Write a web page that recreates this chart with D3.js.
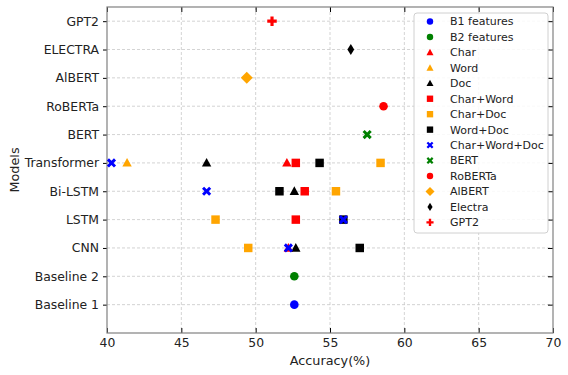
<!DOCTYPE html>
<html>
<head>
<meta charset="utf-8">
<script src="https://cdn.jsdelivr.net/npm/d3@7"></script>
<style>
  body { margin: 0; background: #fff; }
  text { font-family: 'DejaVu Sans', sans-serif; fill: #222; }
</style>
</head>
<body>
<div id="chart"></div>
<script>
// Categories (bottom to top)
const models = ['Baseline 1', 'Baseline 2', 'CNN', 'LSTM', 'Bi-LSTM', 'Transformer',
    'BERT', 'RoBERTa', 'AlBERT', 'ELECTRA', 'GPT2'];

// Accuracy per model for each series (null = not present)
const b1Features   = [52.6, null, null, null, null, null, null, null, null, null, null];
const b2Features   = [null, 52.6, null, null, null, null, null, null, null, null, null];
const charVals     = [null, null, 52.2, null, null, 52.1, null, null, null, null, null];
const wordVals     = [null, null, null, null, null, 41.35, null, null, null, null, null];
const docVals      = [null, null, 52.7, null, 52.6, 46.7, null, null, null, null, null];
const charWord     = [null, null, null, 52.7, 53.3, 52.7, null, null, null, null, null];
const charDoc      = [null, null, 49.5, 47.3, 55.4, 58.4, null, null, null, null, null];
const wordDoc      = [null, null, 57.0, 55.9, 51.6, 54.3, null, null, null, null, null];
const charWordDoc  = [null, null, 52.2, 55.9, 46.7, 40.3, null, null, null, null, null];
const bertVals     = [null, null, null, null, null, null, 57.5, null, null, null, null];
const robertaVals  = [null, null, null, null, null, null, null, 58.6, null, null, null];
const albertVals   = [null, null, null, null, null, null, null, null, 49.4, null, null];
const electraVals  = [null, null, null, null, null, null, null, null, null, 56.4, null];
const gpt2Vals     = [null, null, null, null, null, null, null, null, null, null, 51.1];

const xTicks = [40, 45, 50, 55, 60, 65, 70];

// marker shapes (paths centred at 0,0, scale k)
function xPath(k) {
    const a = 4.6 * k, t = 2.1 * k;
    const pts = [[-a, -a + t], [-a + t, -a], [0, -t], [a - t, -a], [a, -a + t], [t, 0],
        [a, a - t], [a - t, a], [0, t], [-a + t, a], [-a, a - t], [-t, 0]];
    return 'M' + pts.map(p => p.join(',')).join('L') + 'Z';
}
const shapes = {
    circle: k => d3.symbol(d3.symbolCircle, 58 * k * k)(),
    triangle: k => { const h = 8.6 * k, w = 9.4 * k; return `M0,${-h / 2 - 0.6 * k}L${w / 2},${h / 2 - 0.6 * k}L${-w / 2},${h / 2 - 0.6 * k}Z`; },
    square: k => d3.symbol(d3.symbolSquare, 72 * k * k)(),
    x: k => xPath(k),
    diamond: k => { const r = 6 * k; return `M0,${-r}L${r},0L0,${r}L${-r},0Z`; },
    thin: k => { const h = 5.6 * k, w = 3.4 * k; return `M0,${-h}L${w},0L0,${h}L${-w},0Z`; },
    plus: k => d3.symbol(d3.symbolCross, 50 * k * k)()
};

const series = [
    { name: 'B1 features', vals: b1Features, color: '#0000ff', shape: 'circle' },
    { name: 'B2 features', vals: b2Features, color: '#008000', shape: 'circle' },
    { name: 'Char', vals: charVals, color: '#ff0000', shape: 'triangle' },
    { name: 'Word', vals: wordVals, color: '#ffa500', shape: 'triangle' },
    { name: 'Doc', vals: docVals, color: '#000000', shape: 'triangle' },
    { name: 'Char+Word', vals: charWord, color: '#ff0000', shape: 'square' },
    { name: 'Char+Doc', vals: charDoc, color: '#ffa500', shape: 'square' },
    { name: 'Word+Doc', vals: wordDoc, color: '#000000', shape: 'square' },
    { name: 'Char+Word+Doc', vals: charWordDoc, color: '#0000ff', shape: 'x' },
    { name: 'BERT', vals: bertVals, color: '#008000', shape: 'x' },
    { name: 'RoBERTa', vals: robertaVals, color: '#ff0000', shape: 'circle' },
    { name: 'AlBERT', vals: albertVals, color: '#ffa500', shape: 'diamond' },
    { name: 'Electra', vals: electraVals, color: '#000000', shape: 'thin' },
    { name: 'GPT2', vals: gpt2Vals, color: '#ff0000', shape: 'plus' }
];

const width = 568, height = 375;
const margin = { left: 107, right: 15, top: 7, bottom: 42 };
const w = width - margin.left - margin.right;
const h = height - margin.top - margin.bottom;

const svg = d3.select('#chart').append('svg')
    .attr('width', width).attr('height', height);

const g = svg.append('g').attr('transform', `translate(${margin.left},${margin.top})`);

const x = d3.scaleLinear().domain([40, 70]).range([0, w]);
const y = d3.scaleLinear().domain([-1, models.length - 0.5]).range([h, 0]);
const yIdx = d3.range(models.length);

// grid
g.append('g').selectAll('line').data(xTicks.slice(1, -1)).join('line')
    .attr('x1', d => x(d)).attr('x2', d => x(d)).attr('y1', 0).attr('y2', h)
    .attr('stroke', '#c8c8c8').attr('stroke-width', 0.8).attr('stroke-dasharray', '3,2');
g.append('g').selectAll('line').data(yIdx).join('line')
    .attr('x1', 0).attr('x2', w).attr('y1', d => y(d)).attr('y2', d => y(d))
    .attr('stroke', '#c8c8c8').attr('stroke-width', 0.8).attr('stroke-dasharray', '3,2');

// axes
const xAxisB = g.append('g').attr('transform', `translate(0,${h})`)
    .call(d3.axisBottom(x).tickValues(xTicks).tickSizeInner(-5).tickSizeOuter(0).tickPadding(5));
const xAxisT = g.append('g')
    .call(d3.axisTop(x).tickValues(xTicks).tickSizeInner(-5).tickSizeOuter(0).tickFormat(''));
const yAxisL = g.append('g')
    .call(d3.axisLeft(y).tickValues(yIdx).tickFormat(i => models[i]).tickSizeInner(4).tickSizeOuter(0).tickPadding(4));
const yAxisR = g.append('g').attr('transform', `translate(${w},0)`)
    .call(d3.axisRight(y).tickValues(yIdx).tickSizeInner(-5).tickSizeOuter(0).tickFormat(''));

[xAxisB, xAxisT, yAxisL, yAxisR].forEach(a => {
    a.select('.domain').remove();
    a.selectAll('line').attr('stroke', '#000').attr('stroke-width', 1);
    a.selectAll('text').attr('font-size', '12.4px').attr('fill', '#222')
        .style('font-family', "'DejaVu Sans', sans-serif");
});

// frame
g.append('rect').attr('x', 0).attr('y', 0).attr('width', w).attr('height', h)
    .attr('fill', 'none').attr('stroke', '#808080').attr('stroke-width', 1.2);

// labels
svg.append('text').attr('x', margin.left + w / 2).attr('y', 365)
    .attr('text-anchor', 'middle').attr('font-size', '12.8px').text('Accuracy(%)');
svg.append('text').attr('transform', `translate(19,${margin.top + h / 2}) rotate(-90)`)
    .attr('text-anchor', 'middle').attr('font-size', '12.8px').text('Models');

// points
series.forEach(s => {
    g.append('g').selectAll('path')
        .data(s.vals.map((v, i) => ({ v, i })).filter(d => d.v !== null))
        .join('path')
        .attr('d', shapes[s.shape](1))
        .attr('transform', d => `translate(${x(d.v)},${y(d.i)})`)
        .attr('fill', s.color);
});

// legend
const lx = 414, ly = 13, lw = 134, lh = 220;
const legend = svg.append('g');
legend.append('rect').attr('x', lx).attr('y', ly).attr('width', lw).attr('height', lh)
    .attr('rx', 3).attr('fill', '#fff').attr('fill-opacity', 0.85)
    .attr('stroke', '#d0d0d0').attr('stroke-width', 1);
const items = legend.selectAll('g.item').data(series).join('g')
    .attr('class', 'item')
    .attr('transform', (d, i) => `translate(${lx}, ${ly + 8.5 + i * 15.45})`);
items.append('path').attr('d', d => shapes[d.shape](0.75))
    .attr('transform', 'translate(16,0)').attr('fill', d => d.color);
items.append('text').attr('x', 36).attr('dy', '0.35em').attr('font-size', '11px')
    .text(d => d.name);
</script>
</body>
</html>
